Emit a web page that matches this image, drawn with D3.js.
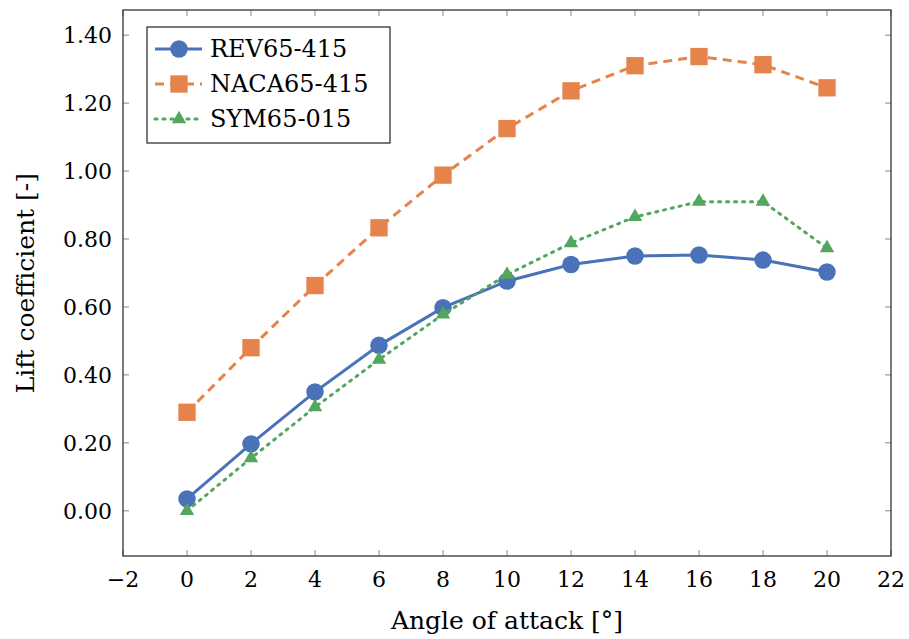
<!DOCTYPE html>
<html>
<head>
<meta charset="utf-8">
<script src="https://cdn.jsdelivr.net/npm/d3@7.9.0/dist/d3.min.js"></script>
<style>
  body { margin: 0; background: #fff; }
</style>
</head>
<body>
<svg id="chart" width="909" height="639" font-family="'DejaVu Serif', 'Liberation Serif', serif"></svg>
<script>
// angle of attack in degrees
const angles = [0, 2, 4, 6, 8, 10, 12, 14, 16, 18, 20];
const rev65 = [0.035, 0.197, 0.350, 0.487, 0.598, 0.676, 0.725, 0.750, 0.753, 0.738, 0.703];
const naca65 = [0.290, 0.480, 0.663, 0.833, 0.988, 1.125, 1.236, 1.310, 1.337, 1.313, 1.245];
const sym65 = [0.000, 0.155, 0.305, 0.445, 0.578, 0.695, 0.788, 0.865, 0.910, 0.910, 0.773];
const xTicks = [-2, 0, 2, 4, 6, 8, 10, 12, 14, 16, 18, 20, 22];
const yTicks = [0, 0.2, 0.4, 0.6, 0.8, 1.0, 1.2, 1.4];

const series = [
  { name: 'REV65-415', values: rev65, color: '#4a72b8', dash: null, marker: 'circle' },
  { name: 'NACA65-415', values: naca65, color: '#e5834a', dash: '9,6', marker: 'square' },
  { name: 'SYM65-015', values: sym65, color: '#52a65e', dash: '2,6', marker: 'triangle' }
];

const svg = d3.select('#chart');
const margin = { left: 123, right: 18, top: 10, bottom: 83 };
const width = 909 - margin.left - margin.right;
const height = 639 - margin.top - margin.bottom;

const x = d3.scaleLinear().domain([-2, 22]).range([margin.left, margin.left + width]);
const y = d3.scaleLinear().domain([-0.133, 1.474]).range([margin.top + height, margin.top]);

const g = svg.append('g');

// inner ticks on all four sides
const tickLen = 6;
const tickColor = '#888';
xTicks.forEach((t) => {
  g.append('line').attr('x1', x(t)).attr('x2', x(t))
    .attr('y1', y.range()[0]).attr('y2', y.range()[0] - tickLen)
    .attr('stroke', tickColor).attr('stroke-width', 1);
  g.append('line').attr('x1', x(t)).attr('x2', x(t))
    .attr('y1', y.range()[1]).attr('y2', y.range()[1] + tickLen)
    .attr('stroke', tickColor).attr('stroke-width', 1);
  g.append('text').attr('x', x(t)).attr('y', y.range()[0] + 31)
    .attr('text-anchor', 'middle').attr('font-size', 22)
    .text(t < 0 ? '\u2212' + Math.abs(t) : t);
});
yTicks.forEach((t) => {
  g.append('line').attr('x1', x.range()[0]).attr('x2', x.range()[0] + tickLen)
    .attr('y1', y(t)).attr('y2', y(t))
    .attr('stroke', tickColor).attr('stroke-width', 1);
  g.append('line').attr('x1', x.range()[1]).attr('x2', x.range()[1] - tickLen)
    .attr('y1', y(t)).attr('y2', y(t))
    .attr('stroke', tickColor).attr('stroke-width', 1);
  g.append('text').attr('x', x.range()[0] - 11).attr('y', y(t) + 8)
    .attr('text-anchor', 'end').attr('font-size', 22)
    .text(t.toFixed(2));
});

// frame
g.append('rect')
  .attr('x', margin.left).attr('y', margin.top)
  .attr('width', width).attr('height', height)
  .attr('fill', 'none').attr('stroke', '#222').attr('stroke-width', 1.2);

// axis titles
svg.append('text').attr('x', x(10)).attr('y', 629)
  .attr('text-anchor', 'middle').attr('font-size', 25)
  .text('Angle of attack [\u00b0]');
svg.append('text')
  .attr('transform', `translate(34,${y(0.67)}) rotate(-90)`)
  .attr('text-anchor', 'middle').attr('font-size', 25)
  .text('Lift coefficient [-]');

const symbol = {
  circle: d3.symbol().type(d3.symbolCircle).size(240),
  square: d3.symbol().type(d3.symbolSquare).size(300),
  triangle: d3.symbol().type(d3.symbolTriangle).size(90)
};

const line = d3.line().x((d) => x(d[0])).y((d) => y(d[1]));

series.forEach((s) => {
  const pts = angles.map((a, i) => [a, s.values[i]]);
  g.append('path').attr('d', line(pts))
    .attr('fill', 'none').attr('stroke', s.color)
    .attr('stroke-width', 3)
    .attr('stroke-dasharray', s.dash)
    .attr('stroke-linecap', s.marker === 'triangle' ? 'round' : 'butt');
  pts.forEach((p) => {
    g.append('path').attr('d', symbol[s.marker]())
      .attr('transform', `translate(${x(p[0])},${y(p[1])})`)
      .attr('fill', s.color);
  });
});

// legend
const lg = svg.append('g').attr('transform', 'translate(147,27)');
lg.append('rect').attr('width', 243).attr('height', 116)
  .attr('fill', '#fff').attr('stroke', '#222').attr('stroke-width', 1.2);
series.forEach((s, i) => {
  const cy = 22 + i * 35;
  lg.append('line').attr('x1', 8).attr('x2', 55).attr('y1', cy).attr('y2', cy)
    .attr('stroke', s.color).attr('stroke-width', 3)
    .attr('stroke-dasharray', s.dash)
    .attr('stroke-linecap', s.marker === 'triangle' ? 'round' : 'butt');
  lg.append('path').attr('d', symbol[s.marker]())
    .attr('transform', `translate(32,${cy})`).attr('fill', s.color);
  lg.append('text').attr('x', 63).attr('y', cy + 8)
    .attr('font-size', 24).text(s.name);
});
</script>
</body>
</html>
